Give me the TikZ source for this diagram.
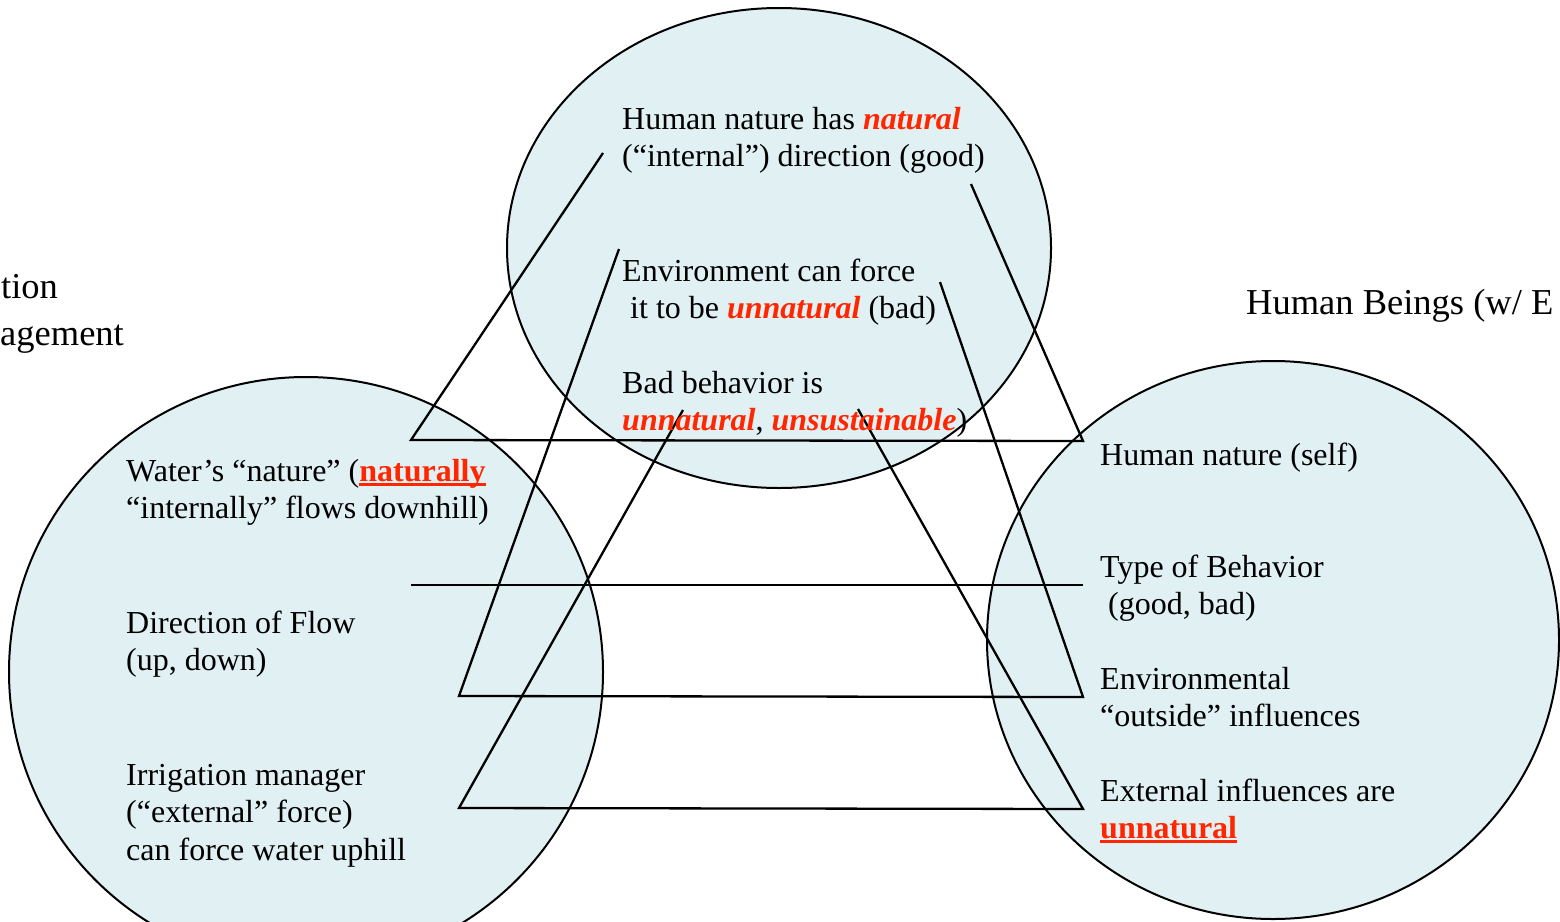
\documentclass[tikz,border=0pt]{standalone}
\usepackage{fontspec}
\setmainfont{Liberation Serif}
\definecolor{bubble}{RGB}{224,240,243}
\definecolor{hot}{RGB}{255,38,0}
\newcommand{\hl}[1]{\textcolor{hot}{\textbf{\textit{#1}}}}
% bold red word with a solid rule under it
\newcommand{\hu}[1]{\textcolor{hot}{\bfseries\setbox0\hbox{#1}\rlap{\rule[-4.5pt]{\wd0}{2.4pt}}\box0}}
\begin{document}
\begin{tikzpicture}[x=1pt,y=-1pt,
  ring/.style={line width=2pt},
  link/.style={line width=2.3pt, line join=miter},
  txt/.style={anchor=base west, inner sep=0pt, font=\fontsize{32}{37}\selectfont},
  heading/.style={anchor=base west, inner sep=0pt, font=\fontsize{36.5}{44}\selectfont}]
\useasboundingbox (0,0) rectangle (1560,921);
\clip (0,0) rectangle (1560,921);

% the three sets
\fill[bubble] (779,248) ellipse [x radius=272pt, y radius=240pt];
\fill[bubble] (306,672) ellipse [x radius=297pt, y radius=295pt];
\fill[bubble] (1273,640) ellipse [x radius=286pt, y radius=279pt];
\draw[ring] (779,248) ellipse [x radius=272pt, y radius=240pt];
\draw[ring] (306,672) ellipse [x radius=297pt, y radius=295pt];
\draw[ring] (1273,640) ellipse [x radius=286pt, y radius=279pt];

% corner points of the analogy frames
\coordinate (a1) at (603,153);
\coordinate (a2) at (411,440);
\coordinate (a3) at (1083,441);
\coordinate (a4) at (971,184);
\coordinate (b1) at (619,249);
\coordinate (b2) at (459,696);
\coordinate (b3) at (1083,697);
\coordinate (b4) at (940,282);
\coordinate (c1) at (683,410);
\coordinate (c2) at (459,808);
\coordinate (c3) at (1083,809);
\coordinate (c4) at (858,409);
\coordinate (d1) at (411,585);
\coordinate (d2) at (1083,585);

\draw[link] (a1) -- (a2) -- (a3) -- (a4);
\draw[link] (b1) -- (b2) -- (b3) -- (b4);
\draw[link] (c1) -- (c2) -- (c3) -- (c4);
\draw[link] (d1) -- (d2);

% captions of the outer sets
\node[heading] (capL1) at (1,298) {tion};
\node[heading] (capL2) at (0,345) {agement};
\node[heading] (capR) at (1246,314) {Human Beings (w/ E};

% middle set
\node[txt] (t1) at (622,129) {Human nature has \hl{natural}};
\node[txt] (t2) at (622,166) {(“internal”) direction (good)};
\node[txt] (t3) at (622,281) {Environment can force};
\node[txt] (t4) at (630,318) {it to be \hl{unnatural} (bad)};
\node[txt] (t5) at (622,393) {Bad behavior is};
\node[txt] (t6) at (622,430) {\hl{unnatural}, \hl{unsustainable})};

% left set
\node[txt] (l1) at (126,481) {Water’s “nature” (\hu{naturally}};
\node[txt] (l2) at (126,518) {“internally” flows downhill)};
\node[txt] (l3) at (126,633) {Direction of Flow};
\node[txt] (l4) at (126,670) {(up, down)};
\node[txt] (l5) at (126,785) {Irrigation manager};
\node[txt] (l6) at (126,822) {(“external” force)};
\node[txt] (l7) at (126,860) {can force water uphill};

% right set
\node[txt] (r1) at (1100,465) {Human nature (self)};
\node[txt] (r2) at (1100,577) {Type of Behavior};
\node[txt] (r3) at (1108,614) {(good, bad)};
\node[txt] (r4) at (1100,689) {Environmental};
\node[txt] (r5) at (1100,726) {“outside” influences};
\node[txt] (r6) at (1100,801) {External influences are};
\node[txt] (r7) at (1100,838) {\hu{unnatural}};
\end{tikzpicture}
\end{document}
